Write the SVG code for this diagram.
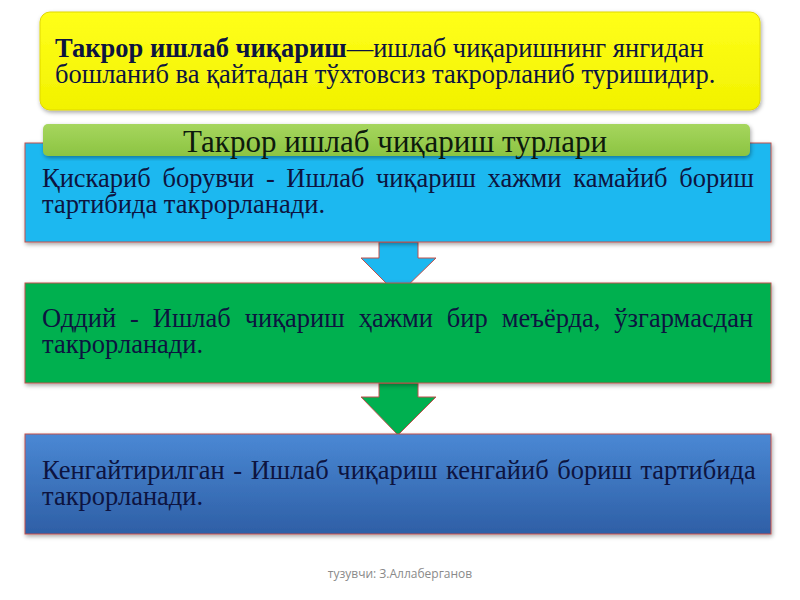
<svg xmlns="http://www.w3.org/2000/svg" width="800" height="600" viewBox="0 0 800 600">
<defs>
<linearGradient id="gy" x1="0" y1="0" x2="0" y2="1"><stop offset="0" stop-color="#ffff1a"/><stop offset="1" stop-color="#f2f200"/></linearGradient>
<linearGradient id="gg" x1="0" y1="0" x2="0" y2="1"><stop offset="0" stop-color="#a6d65e"/><stop offset="1" stop-color="#8cc442"/></linearGradient>
<linearGradient id="gb3" x1="0" y1="0" x2="0" y2="1"><stop offset="0" stop-color="#4a88d4"/><stop offset="1" stop-color="#2e5fa6"/></linearGradient>
<filter id="sh" x="-5%" y="-10%" width="110%" height="125%"><feDropShadow dx="1" dy="2" stdDeviation="2" flood-color="#000" flood-opacity="0.35"/></filter>
<style>
.t{font-family:"Liberation Serif","Times New Roman",serif;font-size:26.5px;fill:#0d1440}
.box{stroke:#c0504d;stroke-width:1}
.arr{stroke:#c0504d;stroke-width:1}
</style>
</defs>
<rect width="800" height="600" fill="#ffffff"/>
<g id="definition">
<rect x="40" y="12" width="720" height="98" rx="10" fill="url(#gy)" stroke="#e0d800" filter="url(#sh)"/>
<text class="t" x="55" y="57"><tspan font-weight="bold">Такрор ишлаб чиқариш</tspan>—ишлаб чиқаришнинг янгидан</text>
<text class="t" x="55" y="83">бошланиб ва қайтадан тўхтовсиз такрорланиб туришидир.</text>
</g>
<g id="connectors">
<path class="arr" d="M379,242 V258 H361 L398,295 L436,258 H418 V242 Z" fill="#1cb8f0"/>
<path class="arr" d="M379,383 V397 H361 L398,435 L436,397 H418 V383 Z" fill="#00b050"/>
</g>
<g id="box1">
<rect class="box" x="25" y="143" width="746" height="99" fill="#1cb8f0" filter="url(#sh)"/>
<text class="t" x="42" y="187" word-spacing="5">Қискариб борувчи - Ишлаб чиқариш хажми камайиб бориш</text>
<text class="t" x="42" y="213">тартибида такрорланади.</text>
</g>
<g id="title">
<rect x="43" y="124" width="707" height="32" rx="5" fill="url(#gg)" filter="url(#sh)"/>
<text x="395" y="152" text-anchor="middle" font-family="Liberation Serif,'Times New Roman',serif" font-size="31" fill="#0d1a0d">Такрор ишлаб чиқариш турлари</text>
</g>
<g id="box2">
<rect class="box" x="25" y="283" width="746" height="100" fill="#00b050" filter="url(#sh)"/>
<text class="t" x="42" y="327" word-spacing="7.3" fill="#0d1a0d">Оддий - Ишлаб чиқариш ҳажми бир меъёрда, ўзгармасдан</text>
<text class="t" x="42" y="353" fill="#0d1a0d">такрорланади.</text>
</g>
<g id="box3">
<rect class="box" x="25" y="434" width="746" height="100" fill="url(#gb3)" filter="url(#sh)"/>
<text class="t" x="42" y="479" word-spacing="2" fill="#0a1a40">Кенгайтирилган - Ишлаб чиқариш кенгайиб бориш тартибида</text>
<text class="t" x="42" y="505" fill="#0a1a40">такрорланади.</text>
</g>
<text x="400" y="578" text-anchor="middle" font-family="'Open Sans','Noto Sans',sans-serif" font-size="12" fill="#8a8a8a">тузувчи: З.Аллаберганов</text>
</svg>
